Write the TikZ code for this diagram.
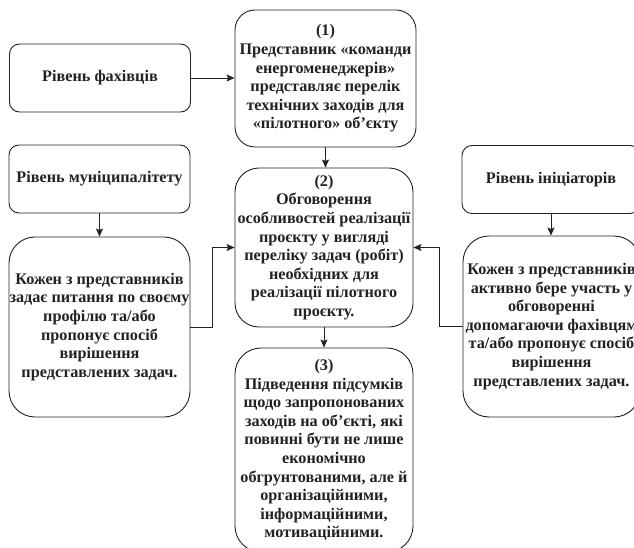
\documentclass[tikz,border=0pt]{standalone}
\usepackage{fontspec}
\setmainfont{Liberation Serif}
\usetikzlibrary{arrows.meta}
\definecolor{ink}{HTML}{222222}
\tikzset{
  box/.style={draw=ink, line width=0.9pt, align=center, text=ink,
    font=\fontsize{16.2}{18.6}\selectfont\bfseries, inner sep=0pt},
  small/.style={box, rounded corners=10pt, minimum height=68pt},
  big/.style={box, rounded corners=24pt},
  conn/.style={draw=ink, line width=0.9pt, -{Stealth[length=8pt,width=7pt,inset=1.5pt]}}
}
\begin{document}
\begin{tikzpicture}[x=1pt,y=-1pt]
\useasboundingbox (0,0) rectangle (634,548);
\fill[white] (0,0) rectangle (634,548);

\node[small, minimum width=181pt] (fah) at (100,78) {Рівень фахівців};
\node[big, rounded corners=20pt, minimum width=181pt, minimum height=137pt] (b1) at (325.5,78.5)
  {(1)\\Представник «команди\\енергоменеджерів»\\представляє перелік\\технічних заходів для\\«пілотного» об’єкту};
\node[small, minimum width=181pt] (mun) at (99.5,179) {Рівень муніципалітету};
\node[big, rounded corners=26pt, minimum width=181pt, minimum height=180pt] (kl) at (99.5,327)
  {Кожен з представників\\задає питання по своєму\\профілю та/або\\пропонує спосіб\\вирішення\\представлених задач.};
\node[big, minimum width=178pt, minimum height=159pt] (b2) at (324,247.5)
  {(2)\\Обговорення\\особливостей реалізації\\проєкту у вигляді\\переліку задач (робіт)\\необхідних для\\реалізації пілотного\\проєкту.};
\node[big, rounded corners=26pt, minimum width=178pt, minimum height=204pt] (b3) at (324,450)
  {(3)\\Підведення підсумків\\щодо запропонованих\\заходів на об’єкті, які\\повинні бути не лише\\економічно\\обгрунтованими, але й\\організаційними,\\інформаційними,\\мотиваційними.};
\node[small, minimum width=178pt] (ini) at (551,179.5) {Рівень ініціаторів};
\node[big, rounded corners=26pt, minimum width=177pt, minimum height=181pt] (kr) at (551.5,326.5)
  {Кожен з представників\\активно бере участь у\\обговоренні\\допомагаючи фахівцям\\та/або пропонує спосіб\\вирішення\\представлених задач.};

\draw[conn] (fah.east) -- (fah.east -| b1.west);
\draw[conn] (b1.south) -- (b1.south |- b2.north);
\draw[conn] (b2.south) -- (b2.south |- b3.north);
\draw[conn] (mun.south) -- (mun.south |- kl.north);
\draw[conn] (ini.south) -- (ini.south |- kr.north);
\draw[conn] (kl.east) -- ++(22,0) |- (b2.west);
\draw[conn] (kr.west) -- ++(-23,0) |- (b2.east);
\end{tikzpicture}
\end{document}
